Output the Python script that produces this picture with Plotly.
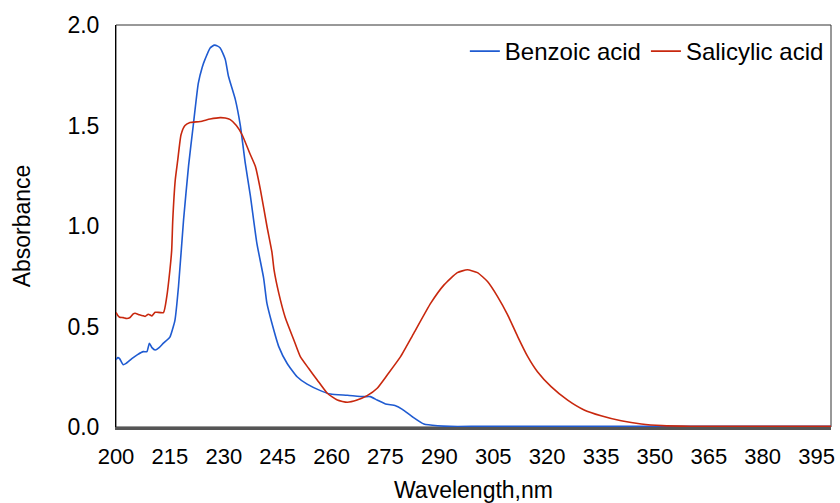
import plotly.graph_objects as go

# Benzoic acid spectrum (wavelength nm, absorbance)
benzoic_wl = [200.0, 200.5, 201.0, 202.0, 202.7, 204.4, 206.0, 207.6, 208.6, 209.3, 210.0, 210.9, 212.0, 213.2,
              215.0, 215.8, 216.4, 217.4, 218.8, 220.2, 221.5, 222.9, 224.0, 224.8, 226.2, 227.4, 228.3, 229.0,
              230.4, 231.3, 233.2, 234.6, 236.0, 237.4, 239.2, 241.1, 242.0, 243.4, 245.3, 247.6, 250.4, 253.2,
              256.9, 259.7, 264.4, 269.0, 270.8, 272.7, 275.0, 277.8, 279.7, 282.5, 285.7, 289.5, 293.0, 300.0,
              320.0, 340.0, 360.0, 380.0, 399.0]
benzoic_abs = [0.335, 0.345, 0.34, 0.31, 0.315, 0.34, 0.36, 0.375, 0.375, 0.417, 0.395, 0.383, 0.395, 0.417,
               0.447, 0.49, 0.53, 0.70, 1.03, 1.30, 1.50, 1.71, 1.79, 1.83, 1.886, 1.90, 1.895, 1.886,
               1.83, 1.745, 1.63, 1.50, 1.31, 1.15, 0.915, 0.74, 0.616, 0.516, 0.40, 0.317, 0.25, 0.213,
               0.181, 0.164, 0.158, 0.151, 0.151, 0.134, 0.115, 0.106, 0.088, 0.051, 0.015, 0.006, 0.003, 0.003,
               0.004, 0.003, 0.004, 0.004, 0.004]

# Salicylic acid spectrum (wavelength nm, absorbance)
salicylic_wl = [200.0, 200.5, 201.0, 202.0, 203.0, 203.9, 204.8, 205.3, 206.5, 207.6, 208.1, 209.0, 210.0, 210.9,
                211.4, 213.2, 214.1, 215.0, 215.5, 215.8, 216.5, 217.2, 218.1, 219.2, 220.6, 223.4, 226.2, 229.0,
                230.4, 231.8, 233.5, 235.1, 237.2, 238.8, 240.2, 242.0, 243.4, 244.0, 245.3, 247.1, 249.5, 251.3,
                253.6, 256.0, 258.8, 261.6, 264.4, 267.1, 269.9, 272.7, 275.5, 279.2, 282.9, 287.6, 291.3, 295.0,
                297.8, 300.6, 303.4, 306.2, 309.0, 311.8, 314.6, 317.3, 321.1, 325.7, 330.3, 335.0, 340.6, 346.2,
                352.0, 360.0, 380.0, 399.0]
salicylic_abs = [0.57, 0.555, 0.546, 0.544, 0.540, 0.545, 0.563, 0.566, 0.558, 0.553, 0.55, 0.561, 0.553, 0.571,
                 0.571, 0.569, 0.645, 0.78, 0.88, 1.03, 1.23, 1.33, 1.454, 1.50, 1.515, 1.52, 1.532, 1.539,
                 1.537, 1.529, 1.50, 1.454, 1.363, 1.296, 1.18, 1.00, 0.87, 0.78, 0.666, 0.545, 0.433, 0.35,
                 0.292, 0.234, 0.168, 0.134, 0.123, 0.134, 0.156, 0.193, 0.259, 0.35, 0.467, 0.616, 0.707, 0.768,
                 0.782, 0.768, 0.724, 0.649, 0.558, 0.45, 0.35, 0.275, 0.201, 0.134, 0.085, 0.056, 0.031, 0.015,
                 0.007, 0.004, 0.003, 0.003]

x_ticks = [200, 215, 230, 245, 260, 275, 290, 305, 320, 335, 350, 365, 380, 395]
y_ticks = [0.0, 0.5, 1.0, 1.5, 2.0]

FONT = "Liberation Sans, Arial, sans-serif"

fig = go.Figure()
fig.add_trace(go.Scatter(x=benzoic_wl, y=benzoic_abs, mode="lines", name="Benzoic acid",
                         line=dict(color="#1F5BD1", width=1.6, shape="spline", smoothing=0.5)))
fig.add_trace(go.Scatter(x=salicylic_wl, y=salicylic_abs, mode="lines", name="Salicylic acid",
                         line=dict(color="#C8280E", width=1.6, shape="spline", smoothing=0.5)))

fig.update_layout(
    width=840, height=503,
    margin=dict(l=116, r=9, t=25, b=76),
    paper_bgcolor="white", plot_bgcolor="white",
    font=dict(family=FONT, size=23, color="black"),
    legend=dict(orientation="h", x=0.997, xanchor="right", y=0.99, yanchor="top",
                bgcolor="rgba(0,0,0,0)", font=dict(size=24), itemwidth=30),
    shapes=[dict(type="rect", xref="paper", yref="paper", x0=0, x1=1, y0=0, y1=1,
                 line=dict(color="#333333", width=1), layer="below")],
)
fig.update_xaxes(range=[200, 399], tickvals=x_ticks, ticktext=[str(v) for v in x_ticks],
                 showgrid=False, zeroline=False, showline=True, linecolor="#555555", linewidth=2.5,
                 ticks="", ticklabelstandoff=8, automargin=False, tickfont=dict(size=22),
                 title=dict(text="Wavelength,nm", standoff=14, font=dict(size=23)))
fig.update_yaxes(range=[0, 2.0], tickvals=y_ticks, ticktext=[f"{v:.1f}" for v in y_ticks],
                 showgrid=False, zeroline=False, showline=True, linecolor="black", linewidth=1,
                 ticks="", ticklabelstandoff=11, automargin=False, tickfont=dict(size=23),
                 title=dict(text="Absorbance", standoff=30, font=dict(size=23)))

fig.write_html("out.html")
